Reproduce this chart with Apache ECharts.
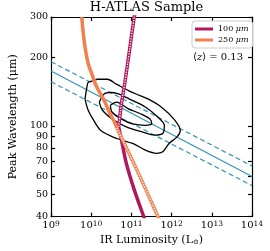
<!DOCTYPE html>
<html><head><meta charset="utf-8">
<script src="https://cdn.jsdelivr.net/npm/echarts@6/dist/echarts.min.js"></script>
<style>html,body{margin:0;padding:0;background:#fff}#c{width:270px;height:251px}</style>
</head><body><div id="c"></div>
<script>
// ---- data (x values are log10 of IR luminosity, y values are peak wavelength in micron) ----
const xTickExps = [9, 10, 11, 12, 13, 14];
const yTicks = [40, 50, 60, 70, 80, 90, 100, 200, 300];
const titleText = 'H-ATLAS Sample';
const meanZ = '0.13';
const legendNames = ['100 μm', '250 μm'];

const relationMid = [[9, 174], [14, 60]];
const relationUpper = [[9, 191], [14, 66.7]];
const relationLower = [[9, 156], [14, 54.7]];

const contourOuter = [[9.846,131],[9.884,145],[9.924,155],[10.043,157.5],[10.161,160],[10.398,160],[10.635,152],[10.950,142],[11.20,136],[11.424,131],[11.742,121],[12.057,107],[12.216,95.5],[12.135,89.5],[11.938,83.7],[11.780,77],[11.623,75.8],[11.346,78.3],[11.031,83.7],[10.635,88],[10.239,95.5],[10.043,107],[9.924,117],[9.846,131]];
const contourMiddle = [[10.201,127],[10.320,138],[10.476,140],[10.675,138],[10.950,131],[11.346,121],[11.661,109],[11.820,100.5],[11.780,92.5],[11.583,91],[11.268,94],[10.872,99],[10.557,106],[10.280,117],[10.201,127]];
const contourInner = [[10.476,123],[10.635,127],[10.912,119],[11.227,113],[11.464,107],[11.505,102],[11.346,100.5],[11.031,102],[10.754,107],[10.517,115],[10.476,123]];

const limit250Solid = [[9.765,300],[9.800,256],[9.855,216],[9.930,186],[10.02,168],[10.114,151],[10.327,128.5],[10.469,113],[10.588,103],[10.635,98]];
const limit250Dotted = [[10.635,98],[11.149,63.3],[11.661,40],[11.72,38]];
const limit100Solid = [[10.682,99],[10.754,86.5],[10.872,68.6],[11.069,52.5],[11.306,40],[11.33,39]];
const limit100Dotted = [[10.682,99],[10.754,126],[10.837,155],[10.955,216],[11.069,300],[11.09,310]];

// ---- styling ----
const FONT = 'DejaVu Serif';
const TEAL = '#2f95b8', MAG = '#b0185e', ORA = '#f47f4e';
const xMin = 1e9, xMax = 1e14, yMin = 40, yMax = 300;

const toXY = a => a.map(p => [Math.pow(10, p[0]), p[1]]);
const clampIn = (v, lo, hi) => Math.min(Math.max(v, lo * 1.000001), hi * 0.999999);
const xTickVals = xTickExps.map(e => clampIn(Math.pow(10, e), xMin, xMax));
const yTickVals = yTicks.map(v => clampIn(v, yMin, yMax));

function line(name, data, color, width, type, z, smooth) {
  return {
    name: name, type: 'line', data: toXY(data), showSymbol: false, symbol: 'none',
    color: color, smooth: smooth || 0, silent: true, z: z, clip: true,
    lineStyle: { color: color, width: width, type: type || 'solid', cap: 'butt' }
  };
}

const axisLineStyle = { color: '#000', width: 1.2 };
function xAxis(pos, show) {
  return {
    type: 'log', logBase: 10, min: xMin, max: xMax, position: pos,
    axisLine: { show: true, lineStyle: axisLineStyle },
    axisTick: { show: true, inside: true, length: 4, customValues: xTickVals, lineStyle: axisLineStyle },
    splitLine: { show: false }, minorTick: { show: false },
    axisLabel: show ? {
      customValues: xTickVals, margin: 3, color: '#000', fontFamily: FONT, fontSize: 10,
      formatter: v => '10{s|' + Math.round(Math.log10(v)) + '}',
      rich: { s: { fontFamily: FONT, fontSize: 7.5, color: '#000', verticalAlign: 'top', padding: [0, 0, 3, 0] } }
    } : { show: false },
    name: show ? 'IR Luminosity (L{sub|⊙})' : '', nameLocation: 'middle', nameGap: 16,
    nameTextStyle: { fontFamily: FONT, fontSize: 11, color: '#000',
      rich: { sub: { fontFamily: FONT, fontSize: 7, color: '#000', verticalAlign: 'bottom', padding: [4, 0, 0, 0] } } }
  };
}
function yAxis(pos, show) {
  return {
    type: 'log', logBase: 10, min: yMin, max: yMax, position: pos,
    axisLine: { show: true, lineStyle: axisLineStyle },
    axisTick: { show: true, inside: true, length: 4, customValues: yTickVals, lineStyle: axisLineStyle },
    splitLine: { show: false }, minorTick: { show: false },
    axisLabel: show ? {
      customValues: yTickVals, margin: 3, color: '#000', fontFamily: FONT, fontSize: 9.5,
      formatter: v => String(Math.round(v))
    } : { show: false },
    name: show ? 'Peak Wavelength (μm)' : '', nameLocation: 'middle', nameGap: 27, nameRotate: 90,
    nameTextStyle: { fontFamily: FONT, fontSize: 11, color: '#000' }
  };
}

const series = [
  line('rel', relationMid, TEAL, 1.2, 'solid', 2),
  line('relU', relationUpper, TEAL, 1.2, [5, 3], 2),
  line('relL', relationLower, TEAL, 1.2, [5, 3], 2),
  line('c1', contourOuter, '#000', 1.3, 'solid', 3, 0.3),
  line('c2', contourMiddle, '#000', 1.3, 'solid', 3, 0.3),
  line('c3', contourInner, '#000', 1.3, 'solid', 3, 0.3),
  line(legendNames[0], limit100Solid, MAG, 3.5, 'solid', 4, 0.3),
  line('m100d', limit100Dotted, MAG, 3.5, 'solid', 4, 0.2),
  line('m100w', limit100Dotted, '#fff', 1.3, [1.3, 1.3], 5, 0.2),
  line(legendNames[1], limit250Solid, ORA, 3.5, 'solid', 6, 0.4),
  line('o250d', limit250Dotted, ORA, 3.5, 'solid', 6, 0.3),
  line('o250w', limit250Dotted, '#fff', 1.3, [1.3, 1.3], 7, 0.3)
];

const chart = echarts.init(document.getElementById('c'), null, { renderer: 'canvas' });
chart.setOption({
  animation: false,
  backgroundColor: '#fff',
  grid: { left: 41, right: 18, top: 17, bottom: 32, containLabel: false },
  xAxis: [xAxis('bottom', true), xAxis('top', false)],
  yAxis: [yAxis('left', true), yAxis('right', false)],
  legend: {
    data: legendNames, left: 192, top: 21, orient: 'vertical', itemGap: 3,
    itemWidth: 18, itemHeight: 3, icon: 'rect', padding: [4, 4, 4, 3],
    borderColor: '#ccc', borderWidth: 1, borderRadius: 3, backgroundColor: '#fff',
    selectedMode: false,
    formatter: n => n.replace('μm', '{i|μm}'),
    textStyle: { fontFamily: FONT, fontSize: 8, color: '#000',
      rich: { i: { fontFamily: FONT, fontSize: 8, fontStyle: 'italic', color: '#000' } } }
  },
  graphic: [
    { type: 'text', x: 146.5, y: 1, z: 10, style: { text: titleText, align: 'center', verticalAlign: 'top',
      fontFamily: FONT, fontSize: 13, fill: '#000' } },
    { type: 'text', x: 193, y: 52, z: 10, style: { text: '⟨{i|z}⟩ = ' + meanZ, verticalAlign: 'top',
      fontFamily: FONT, fontSize: 10, fill: '#000',
      rich: { i: { fontFamily: FONT, fontSize: 10, fontStyle: 'italic', fill: '#000' } } } }
  ],
  series: series
});
</script></body></html>
